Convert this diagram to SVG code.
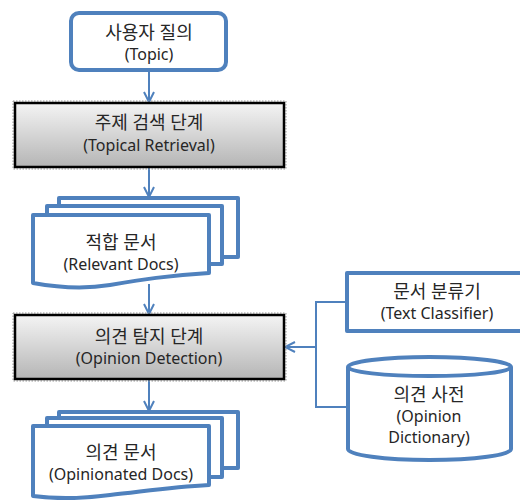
<svg xmlns="http://www.w3.org/2000/svg" width="520" height="500" viewBox="0 0 520 500">
<defs>
<linearGradient id="g" x1="0" y1="0" x2="0" y2="1">
<stop offset="0" stop-color="#f4f4f4"/>
<stop offset="1" stop-color="#b5b5b5"/>
</linearGradient>
<marker id="ah" viewBox="0 0 12 12" refX="11" refY="6" markerWidth="12" markerHeight="12" markerUnits="userSpaceOnUse" orient="auto">
<path d="M1,1 L11,6 L1,11" fill="none" stroke="#4f81bd" stroke-width="2"/>
</marker>
</defs>
<style>
.b{fill:#fff;stroke:#4f81bd;stroke-width:4;stroke-linejoin:round}
.p{fill:url(#g);stroke:#000;stroke-width:2.5}
.sh{fill:none;stroke:#999;stroke-width:1;stroke-dasharray:1.5 1.5}
.c{fill:none;stroke:#4f81bd;stroke-width:2}
text{font-family:"Noto Sans","Noto Sans CJK KR",sans-serif;font-size:16px;fill:#262626;text-anchor:middle}
text.k{font-size:18px}
</style>
<g id="connectors">
<path class="c" d="M149,71 V102" marker-end="url(#ah)"/>
<path class="c" d="M149,167 V197" marker-end="url(#ah)"/>
<path class="c" d="M149,284 V314" marker-end="url(#ah)"/>
<path class="c" d="M149,380 V411" marker-end="url(#ah)"/>
<path class="c" d="M347,302 H316 V407 H348"/>
<path class="c" d="M316,347 H285" marker-end="url(#ah)"/>
</g>
<g id="topic">
<rect class="b" x="71" y="13" width="155" height="57" rx="8"/>
<text class="k" x="149" y="39">사용자 질의</text>
<text x="149" y="60">(Topic)</text>
</g>
<g id="topical-retrieval">
<rect class="sh" x="13" y="101" width="273" height="68"/>
<rect class="p" x="15" y="103" width="269" height="64"/>
<text class="k" x="149" y="129">주제 검색 단계</text>
<text x="149" y="151">(Topical Retrieval)</text>
</g>
<g id="relevant-docs">
<path class="b" d="M59,206 V198 H238 V257 H222"/>
<path class="b" d="M47,215 V206 H222 V264 H209"/>
<path class="b" d="M33,215 H209 V273 C170,275 140,280 110,285 C80,290 55,287 33,283 Z"/>
<text class="k" x="121" y="249">적합 문서</text>
<text x="121" y="270">(Relevant Docs)</text>
</g>
<g id="opinion-detection">
<rect class="sh" x="13" y="313" width="273" height="68"/>
<rect class="p" x="15" y="315" width="269" height="64"/>
<text class="k" x="149" y="343">의견 탐지 단계</text>
<text x="149" y="364">(Opinion Detection)</text>
</g>
<g id="opinionated-docs">
<path class="b" d="M59,418 V412 H238 V468 H222"/>
<path class="b" d="M47,426 V418 H222 V477 H209"/>
<path class="b" d="M33,426 H209 V485 C170,487 140,492 110,495 C80,499 55,499 33,496 Z"/>
<text class="k" x="121" y="459">의견 문서</text>
<text x="121" y="480">(Opinionated Docs)</text>
</g>
<g id="text-classifier">
<rect class="b" x="347" y="273" width="185" height="58"/>
<text class="k" x="437" y="298">문서 분류기</text>
<text x="437" y="319">(Text Classifier)</text>
</g>
<g id="opinion-dictionary">
<path class="b" d="M348,367 A81.5,10 0 0 1 511,367 V449 A81.5,11 0 0 1 348,449 Z"/>
<path class="b" d="M348,367 A81.5,9 0 0 0 511,367" fill="none"/>
<text class="k" x="429" y="401">의견 사전</text>
<text x="429" y="422">(Opinion</text>
<text x="429" y="443">Dictionary)</text>
</g>
</svg>
